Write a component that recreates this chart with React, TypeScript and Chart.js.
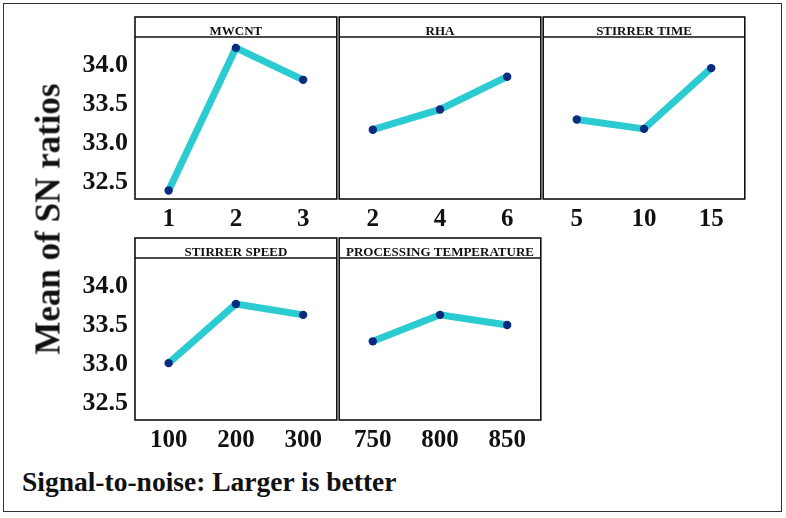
import React, { useEffect, useRef } from "react";
import { Chart, registerables } from "chart.js";

Chart.register(...registerables);

// Mean S/N ratio per factor level (larger is better)
const factorNames = ["MWCNT", "RHA", "STIRRER TIME", "STIRRER SPEED", "PROCESSING TEMPERATURE"];

const mwcntLevels = ["1", "2", "3"];
const mwcntSN = [32.39, 34.22, 33.81];

const rhaLevels = ["2", "4", "6"];
const rhaSN = [33.17, 33.43, 33.85];

const stirrerTimeLevels = ["5", "10", "15"];
const stirrerTimeSN = [33.3, 33.18, 33.96];

const stirrerSpeedLevels = ["100", "200", "300"];
const stirrerSpeedSN = [33.01, 33.77, 33.63];

const temperatureLevels = ["750", "800", "850"];
const temperatureSN = [33.29, 33.63, 33.5];

const yTicks = [32.5, 33.0, 33.5, 34.0];
const yMin = 32.28;
const yMax = 34.36;

// Layout of the panel grid (page pixels)
const SERIF = '"Liberation Serif", "Times New Roman", serif';
const LINE_COLOR = "#2bcbd2";
const DOT_COLOR = "#0b2c7e";
const PAD = 3;
const STRIP = 20;
const Y_AXIS_W = 120;
const X_AXIS_H = 40;
const AREA_H = 162;
const colEdges = [135, 338, 542, 746];
const rowTops = [37, 258];

const framePlugin = {
  id: "panelFrame",
  afterDraw(chart: any, _args: any, opts: any) {
    const { ctx, chartArea: a } = chart;
    ctx.save();
    ctx.strokeStyle = "#111";
    ctx.lineWidth = 1.6;
    ctx.strokeRect(a.left, a.top - STRIP, a.right - a.left, a.bottom - a.top + STRIP);
    ctx.beginPath();
    ctx.moveTo(a.left, a.top);
    ctx.lineTo(a.right, a.top);
    ctx.stroke();
    ctx.font = `bold 13px ${SERIF}`;
    ctx.textAlign = "center";
    ctx.textBaseline = "alphabetic";
    ctx.fillStyle = "#111";
    ctx.fillText(opts.title, (a.left + a.right) / 2, a.top - 2);
    ctx.restore();
  },
};

type PanelProps = {
  title: string;
  levels: string[];
  values: number[];
  col: number;
  row: number;
  showY: boolean;
};

function Panel({ title, levels, values, col, row, showY }: PanelProps) {
  const ref = useRef<HTMLCanvasElement>(null);
  const yw = showY ? Y_AXIS_W : 0;
  const L = colEdges[col];
  const R = colEdges[col + 1];
  const left = L - PAD - yw;
  const top = rowTops[row] - STRIP - PAD;
  const width = yw + PAD + (R - L) + PAD;
  const height = PAD + STRIP + AREA_H + X_AXIS_H;

  useEffect(() => {
    const chart = new Chart(ref.current as HTMLCanvasElement, {
      type: "line",
      data: {
        labels: levels,
        datasets: [
          {
            data: values,
            borderColor: LINE_COLOR,
            borderWidth: 7,
            pointRadius: 4.2,
            pointHoverRadius: 4.2,
            pointBackgroundColor: DOT_COLOR,
            pointBorderWidth: 0,
            tension: 0,
          },
        ],
      },
      options: {
        responsive: false,
        animation: false,
        events: [],
        layout: { padding: { top: STRIP + PAD, left: PAD, right: PAD, bottom: 0 } },
        plugins: {
          legend: { display: false },
          tooltip: { enabled: false },
          title: { display: false },
          panelFrame: { title },
        } as any,
        scales: {
          x: {
            type: "category",
            offset: true,
            grid: { display: false, drawTicks: false },
            border: { display: false },
            ticks: {
              padding: 6,
              color: "#111",
              maxRotation: 0,
              autoSkip: false,
              font: { family: SERIF, size: 25, weight: "bold" },
            },
            afterFit: (s: any) => {
              s.height = X_AXIS_H;
            },
          },
          y: {
            display: showY,
            min: yMin,
            max: yMax,
            grid: { display: false, drawTicks: false },
            border: { display: false },
            ticks: {
              padding: 7,
              color: "#111",
              font: { family: SERIF, size: 26, weight: "bold" },
              callback: (v: any) => Number(v).toFixed(1),
            },
            afterBuildTicks: (s: any) => {
              s.ticks = yTicks.map((v) => ({ value: v }));
            },
            afterFit: (s: any) => {
              s.width = yw;
            },
          },
        },
      } as any,
      plugins: [framePlugin],
    });
    return () => chart.destroy();
  }, []);

  return (
    <canvas
      ref={ref}
      width={width}
      height={height}
      style={{ position: "absolute", left, top, width, height }}
    />
  );
}

export default function App() {
  return (
    <div
      style={{
        position: "fixed",
        left: 0,
        top: 0,
        width: 786,
        height: 518,
        background: "#fff",
        overflow: "hidden",
      }}
    >
      <div
        style={{
          position: "absolute",
          left: 3,
          top: 3,
          width: 779,
          height: 509,
          border: "1.5px solid #333",
          boxSizing: "border-box",
        }}
      />
      <Panel title={factorNames[0]} levels={mwcntLevels} values={mwcntSN} col={0} row={0} showY />
      <Panel title={factorNames[1]} levels={rhaLevels} values={rhaSN} col={1} row={0} showY={false} />
      <Panel title={factorNames[2]} levels={stirrerTimeLevels} values={stirrerTimeSN} col={2} row={0} showY={false} />
      <Panel title={factorNames[3]} levels={stirrerSpeedLevels} values={stirrerSpeedSN} col={0} row={1} showY />
      <Panel title={factorNames[4]} levels={temperatureLevels} values={temperatureSN} col={1} row={1} showY={false} />
      <div
        style={{
          position: "absolute",
          left: 48,
          top: 219,
          transform: "translate(-50%, -50%) rotate(-90deg)",
          whiteSpace: "nowrap",
          fontFamily: SERIF,
          fontWeight: "bold",
          fontSize: 35,
          lineHeight: "35px",
          color: "#111",
        }}
      >
        Mean of SN ratios
      </div>
      <div
        style={{
          position: "absolute",
          left: 22,
          top: 468,
          whiteSpace: "nowrap",
          fontFamily: SERIF,
          fontWeight: "bold",
          fontSize: 27.5,
          lineHeight: "28px",
          color: "#111",
        }}
      >
        Signal-to-noise: Larger is better
      </div>
    </div>
  );
}
